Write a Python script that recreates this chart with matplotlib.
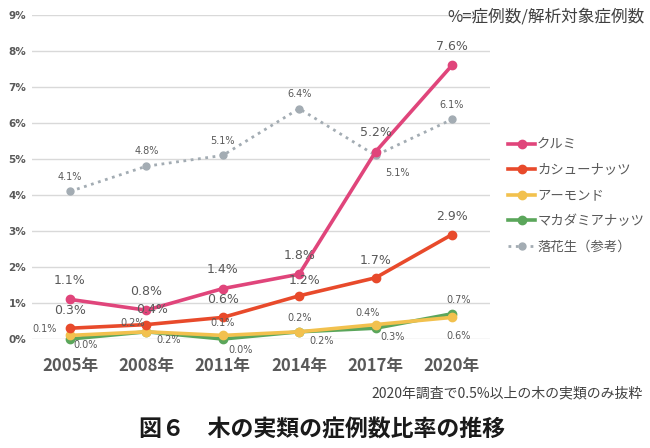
import matplotlib
matplotlib.use("Agg")
import matplotlib.pyplot as plt

plt.rcParams['font.family'] = ['Noto Sans CJK JP', 'DejaVu Sans']

years = ["2005年", "2008年", "2011年", "2014年", "2017年", "2020年"]
walnut = [1.1, 0.8, 1.4, 1.8, 5.2, 7.6]
cashew = [0.3, 0.4, 0.6, 1.2, 1.7, 2.9]
almond = [0.1, 0.2, 0.1, 0.2, 0.4, 0.6]
macadamia = [0.0, 0.2, 0.0, 0.2, 0.3, 0.7]
peanut = [4.1, 4.8, 5.1, 6.4, 5.1, 6.1]
names = ["クルミ", "カシューナッツ", "アーモンド", "マカダミアナッツ", "落花生（参考）"]
yticks = [0, 1, 2, 3, 4, 5, 6, 7, 8, 9]

fig = plt.figure(figsize=(6.5, 4.48), dpi=100)
ax = fig.add_axes([0.049, 0.2433, 0.705, 0.7232])
x = list(range(len(years)))

txt = '#595959'
ax.set_xlim(-0.5, 5.5)
ax.set_ylim(0, 9)
ax.set_yticks(yticks)
ax.set_yticklabels([f"{v}%" for v in yticks], fontsize=7.5, fontweight='bold', color=txt,
                   family=['DejaVu Sans'])
ax.set_xticks(x)
ax.set_xticklabels(years, fontsize=12, fontweight='bold', color=txt)
ax.tick_params(length=0, pad=4)
ax.tick_params(axis='x', pad=13)
for s in ax.spines.values():
    s.set_visible(False)
ax.grid(axis='y', color='#D9D9D9', lw=1)
ax.set_axisbelow(True)

colors = ['#E0457B', '#E84A2B', '#F2C14E', '#5BA65B', '#A3ACB3']
series = [walnut, cashew, almond, macadamia, peanut]
lws = [2.6, 2.6, 2.6, 2.6, 2.0]
order = [4, 2, 3, 1, 0]
handles = {}
for i in order:
    ls = ':' if i == 4 else '-'
    ms = 6 if i < 4 else 5
    h, = ax.plot(x, series[i], color=colors[i], lw=lws[i], ls=ls, marker='o', ms=ms,
                 clip_on=False, label=names[i], zorder=3 + (4 - i))
    handles[i] = h

# label offsets (points)
offs = {
    0: [(0, 9), (0, 9), (0, 9), (0, 9), (0, 9), (0, 9)],
    1: [(0, 8), (4, 6), (0, 8), (4, 6), (0, 8), (0, 8)],
    2: [(-18, 1), (-10, 3), (0, 5), (0, 6), (-6, 5), (5, -10)],
    3: [(11, -1), (16, -2), (13, -4), (16, -3), (12, -3), (5, 6)],
    4: [(0, 7), (0, 7), (0, 7), (0, 7), (16, -9), (0, 7)],
}
fsz = {0: 9, 1: 9, 2: 7, 3: 7, 4: 7}
for i in range(5):
    for j, v in enumerate(series[i]):
        dx, dy = offs[i][j]
        ax.annotate(f"{v:.1f}%", (j, v), xytext=(dx, dy), textcoords='offset points',
                    ha='center', va='bottom' if dy > 0 else 'top', fontsize=fsz[i],
                    color=txt, family=['DejaVu Sans'], zorder=10)

leg = fig.legend([handles[i] for i in range(5)], names, loc='upper left',
                 bbox_to_anchor=(0.772, 0.708), frameon=False, fontsize=9.6,
                 handlelength=2.0, handletextpad=0.15, labelspacing=0.86, borderpad=0)
for t in leg.get_texts():
    t.set_color(txt)

fig.text(0.992, 0.963, "%=症例数/解析対象症例数", ha='right', va='center', fontsize=12, color='#404040')
fig.text(0.989, 0.122, "2020年調査で0.5%以上の木の実類のみ抜粋", ha='right', va='center', fontsize=10,
         color='#404040')
fig.text(0.495, 0.040, "図６　木の実類の症例数比率の推移", ha='center', va='center', fontsize=16.5,
         fontweight='bold', color='#1a1a1a')

fig.savefig("out.png", dpi=100)
